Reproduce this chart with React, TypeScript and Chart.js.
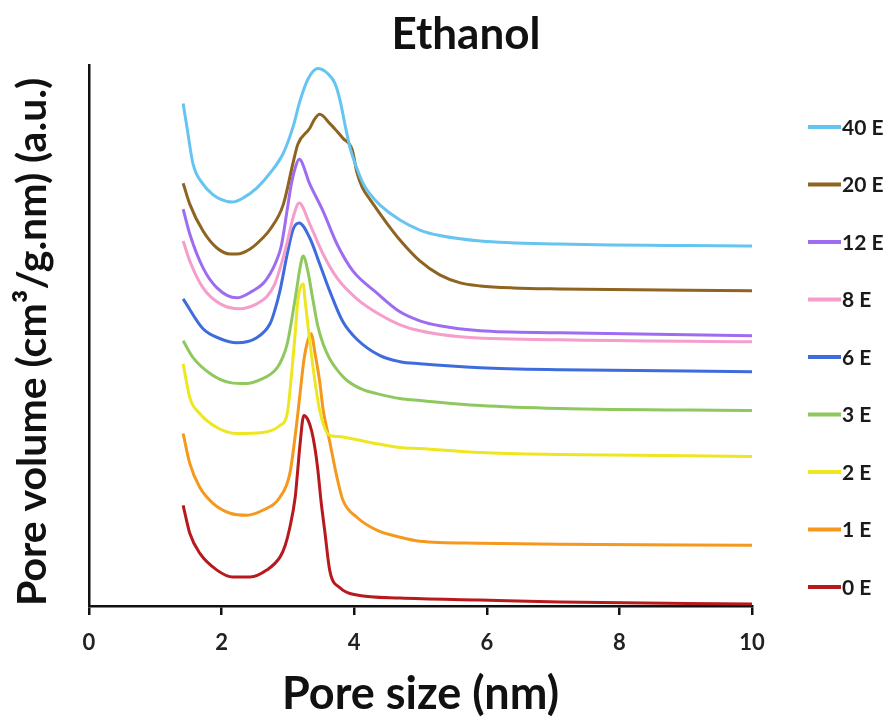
import React, { useEffect, useRef } from "react";
import { Chart, registerables } from "chart.js";

Chart.register(...registerables);

const seriesLabels = ["40 E", "20 E", "12 E", "8 E", "6 E", "3 E", "2 E", "1 E", "0 E"];
const seriesColors = ["#66C4F0", "#8E6420", "#9E6CF0", "#F59DCB", "#3F6CDD", "#8FC85E", "#EEE620", "#F5981E", "#B8191D"];

const xTickValues = [0, 2, 4, 6, 8, 10];

const x40E = [1.42, 1.48, 1.57, 1.72, 1.86, 1.98, 2.16, 2.32, 2.53, 2.73, 2.93, 3.08, 3.18, 3.30, 3.45, 3.60, 3.71, 3.79, 3.86, 3.94, 4.04, 4.14, 4.24, 4.39, 4.69, 4.99, 5.29, 5.90, 7.10, 10.0];
const y40E = [100.8, 95.8, 88.6, 84.6, 82.6, 81.6, 81.0, 81.8, 83.8, 86.8, 90.8, 96.2, 101.2, 105.6, 107.8, 106.8, 104.8, 101.2, 96.6, 91.8, 87.8, 84.6, 82.6, 80.4, 77.4, 75.4, 74.3, 73.2, 72.6, 72.2];

const x20E = [1.42, 1.52, 1.72, 1.93, 2.13, 2.23, 2.43, 2.62, 2.73, 2.93, 3.08, 3.15, 3.33, 3.40, 3.48, 3.63, 3.74, 3.83, 3.97, 4.04, 4.12, 4.24, 4.34, 4.49, 4.69, 4.99, 5.29, 5.60, 5.90, 6.40, 7.10, 10.0];
const y20E = [84.8, 80.6, 75.2, 71.8, 70.6, 70.6, 71.6, 73.8, 75.5, 80.5, 89.0, 92.6, 95.8, 97.6, 98.6, 96.8, 95.2, 93.8, 91.5, 87.0, 84.0, 81.5, 79.6, 76.8, 73.4, 69.2, 66.4, 64.8, 64.2, 63.8, 63.6, 63.2];

const x12E = [1.42, 1.52, 1.72, 1.93, 2.23, 2.47, 2.62, 2.73, 2.82, 2.90, 2.99, 3.05, 3.12, 3.17, 3.33, 3.53, 3.74, 3.98, 4.34, 4.69, 4.99, 5.29, 5.90, 7.10, 10.0];
const y12E = [79.6, 74.6, 67.8, 63.8, 61.8, 63.2, 64.6, 66.6, 69.0, 72.2, 79.5, 84.5, 88.3, 89.6, 84.6, 79.2, 72.6, 67.2, 62.8, 59.0, 57.2, 56.2, 55.2, 54.8, 54.2];

const x8E = [1.42, 1.52, 1.72, 1.98, 2.28, 2.53, 2.68, 2.80, 2.90, 2.99, 3.08, 3.17, 3.33, 3.53, 3.74, 4.04, 4.39, 4.69, 4.99, 5.60, 7.10, 10.0];
const y8E = [73.2, 69.2, 63.8, 60.6, 59.6, 60.6, 62.0, 64.5, 68.5, 73.0, 78.0, 80.8, 76.6, 70.6, 65.8, 61.6, 58.4, 56.4, 55.2, 54.0, 53.4, 53.0];

const x6E = [1.42, 1.72, 1.98, 2.23, 2.53, 2.73, 2.80, 2.88, 2.99, 3.08, 3.17, 3.33, 3.48, 3.63, 3.83, 4.04, 4.39, 4.69, 4.99, 5.90, 7.10, 10.0];
const y6E = [61.6, 55.6, 53.6, 52.8, 53.8, 56.6, 59.2, 63.2, 70.6, 75.6, 76.8, 73.8, 68.6, 63.2, 57.0, 53.5, 50.2, 49.0, 48.6, 47.8, 47.4, 47.0];

const x3E = [1.42, 1.57, 1.83, 2.13, 2.38, 2.62, 2.74, 2.84, 2.92, 2.99, 3.06, 3.14, 3.18, 3.23, 3.30, 3.38, 3.45, 3.53, 3.63, 3.74, 3.86, 3.98, 4.15, 4.34, 4.69, 4.99, 5.90, 7.10, 10.0];
const y3E = [53.2, 49.8, 46.6, 44.8, 44.6, 45.6, 46.5, 47.8, 49.8, 52.6, 57.6, 64.2, 67.6, 70.2, 67.2, 61.2, 56.2, 52.6, 49.6, 47.4, 45.6, 44.4, 43.3, 42.6, 41.6, 41.2, 40.2, 39.6, 39.2];

const x2E = [1.42, 1.52, 1.67, 1.93, 2.23, 2.62, 2.88, 2.99, 3.06, 3.11, 3.15, 3.23, 3.26, 3.32, 3.38, 3.48, 3.63, 3.74, 4.24, 4.69, 4.99, 5.90, 7.10, 10.0];
const y2E = [48.6, 41.8, 38.6, 35.8, 34.6, 34.8, 36.2, 38.6, 47.2, 54.6, 61.2, 64.6, 61.2, 54.2, 47.8, 39.2, 34.2, 34.0, 32.8, 31.8, 31.6, 30.8, 30.4, 30.0];

const x1E = [1.42, 1.52, 1.67, 1.87, 2.13, 2.38, 2.62, 2.88, 3.03, 3.12, 3.18, 3.24, 3.30, 3.35, 3.41, 3.48, 3.53, 3.63, 3.74, 3.83, 4.04, 4.34, 4.69, 4.99, 5.90, 7.10, 10.0];
const y1E = [34.6, 28.6, 23.8, 20.6, 18.6, 18.2, 19.2, 21.8, 26.6, 35.2, 42.2, 49.2, 53.2, 54.6, 50.6, 45.0, 39.5, 33.0, 25.8, 21.2, 17.8, 15.2, 13.8, 13.0, 12.6, 12.4, 12.2];

const x0E = [1.42, 1.52, 1.67, 1.93, 2.17, 2.43, 2.68, 2.88, 2.96, 3.03, 3.11, 3.15, 3.18, 3.24, 3.30, 3.36, 3.41, 3.45, 3.50, 3.56, 3.63, 3.79, 4.04, 4.69, 5.90, 7.10, 10.0];
const y0E = [20.2, 14.6, 10.6, 7.2, 5.8, 5.8, 7.2, 9.8, 12.2, 15.8, 21.8, 27.5, 32.0, 38.2, 37.4, 35.0, 31.5, 27.5, 21.0, 14.6, 7.2, 3.6, 2.2, 1.6, 1.2, 0.8, 0.4];

const seriesX = [x40E, x20E, x12E, x8E, x6E, x3E, x2E, x1E, x0E];
const seriesY = [y40E, y20E, y12E, y8E, y6E, y3E, y2E, y1E, y0E];

const FONT = "Lato, 'Open Sans', sans-serif";

const sideLegend = {
  id: "sideLegend",
  afterDraw(chart: any) {
    const { ctx, chartArea } = chart;
    const x0 = chartArea.right + 56;
    const y0 = chartArea.top + 62;
    const step = 57.5;
    ctx.save();
    ctx.font = `bold 21px ${FONT}`;
    ctx.textBaseline = "middle";
    ctx.textAlign = "left";
    chart.data.datasets.forEach((ds: any, i: number) => {
      const y = y0 + i * step;
      ctx.strokeStyle = ds.borderColor;
      ctx.lineWidth = 4;
      ctx.lineCap = "butt";
      ctx.beginPath();
      ctx.moveTo(x0, y);
      ctx.lineTo(x0 + 33, y);
      ctx.stroke();
      ctx.fillStyle = "#1a1a1a";
      ctx.fillText(ds.label, x0 + 34, y + 1);
    });
    ctx.restore();
  },
};

export default function App() {
  const canvasRef = useRef<HTMLCanvasElement | null>(null);

  useEffect(() => {
    if (!canvasRef.current) return;
    const datasets = seriesLabels.map((label, i) => ({
      label,
      data: seriesX[i].map((x, j) => ({ x, y: seriesY[i][j] })),
      borderColor: seriesColors[i],
      backgroundColor: seriesColors[i],
      borderWidth: 3,
      pointRadius: 0,
      fill: false,
      cubicInterpolationMode: "monotone" as const,
      tension: 0.4,
      yAxisID: "y",
    }));

    const chart = new Chart(canvasRef.current, {
      type: "line",
      data: { datasets },
      plugins: [sideLegend],
      options: {
        responsive: false,
        animation: false,
        layout: { padding: { left: 43, right: 0, top: 0, bottom: 0 } },
        plugins: {
          legend: { display: false },
          tooltip: { enabled: false },
          title: {
            display: true,
            text: "Ethanol",
            color: "#111",
            font: { family: FONT, size: 44, weight: "bold" },
            padding: { top: 8, bottom: 4.2 },
          },
        },
        scales: {
          x: {
            type: "linear",
            min: 0,
            max: 10,
            afterBuildTicks: (scale: any) => {
              scale.ticks = xTickValues.map((v) => ({ value: v }));
            },
            afterFit: (scale: any) => {
              scale.height = 114;
            },
            grid: {
              display: true,
              drawOnChartArea: false,
              drawTicks: true,
              tickLength: 9,
              color: "#111",
              lineWidth: 2.5,
            },
            border: { display: true, color: "#111", width: 2.5 },
            ticks: {
              color: "#222",
              padding: 15,
              font: { family: FONT, size: 22, weight: "bold" },
              maxRotation: 0,
            },
            title: {
              display: true,
              text: "Pore size (nm)",
              color: "#111",
              font: { family: FONT, size: 45, weight: "bold" },
              padding: { top: 0, bottom: -1 },
            },
          },
          y: {
            type: "linear",
            position: "left",
            min: 0,
            max: 108.5,
            afterFit: (scale: any) => {
              scale.width = 46;
            },
            grid: { display: true, drawOnChartArea: false, drawTicks: false },
            border: { display: true, color: "#111", width: 2.5 },
            ticks: { display: false },
            title: {
              display: true,
              align: "start",
              text: "Pore volume (cm³/g.nm) (a.u.)",
              color: "#111",
              font: { family: FONT, size: 41, weight: "bold" },
              padding: { top: -34.6, bottom: 0 },
            },
          },
          legendSpace: {
            type: "linear",
            position: "right",
            display: true,
            afterFit: (scale: any) => {
              scale.width = 137;
            },
            grid: { display: false },
            border: { display: false },
            ticks: { display: false },
          },
        },
      },
    });
    return () => chart.destroy();
  }, []);

  return (
    <div style={{ position: "fixed", left: 0, top: 0, width: 889, height: 720, background: "#fff" }}>
      <canvas ref={canvasRef} width={889} height={720} style={{ display: "block" }} />
    </div>
  );
}
